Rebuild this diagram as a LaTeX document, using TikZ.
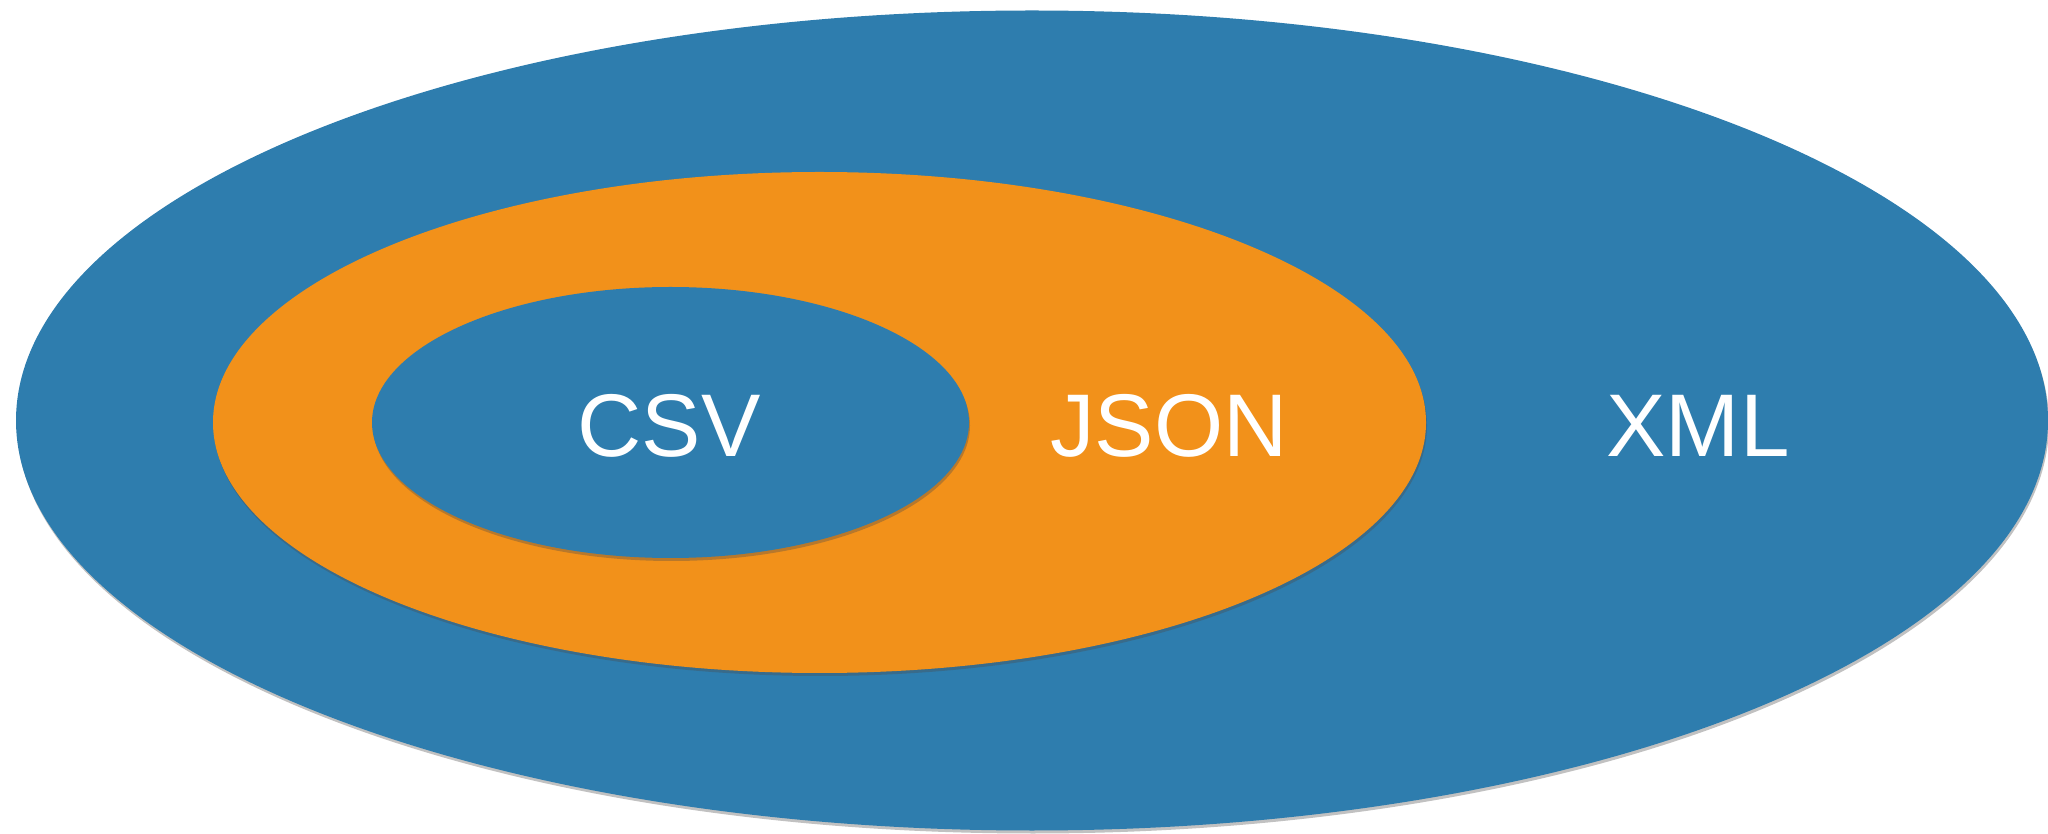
\documentclass[tikz,border=0pt]{standalone}
\usepackage{fontspec}
\setmainfont{Liberation Sans}
\usetikzlibrary{shadows}
\definecolor{setblue}{RGB}{46,125,174}
\definecolor{setorange}{RGB}{242,145,26}
\begin{document}
\begin{tikzpicture}[x=1pt,y=1pt,
  setshadow/.style={drop shadow={shadow xshift=1pt,shadow yshift=-3pt,opacity=0.35,fill=black!70}},
  setlabel/.style={text=white,anchor=base,inner sep=0pt,font=\fontsize{89pt}{100pt}\selectfont}]
  \useasboundingbox (0,0) rectangle (2048,833);
  % nested sets: XML contains JSON contains CSV
  \path[fill=setblue,setshadow] (1032,412.5) ellipse [x radius=1016,y radius=410];
  \path[fill=setorange,setshadow] (819.5,410.5) ellipse [x radius=606.5,y radius=250.5];
  \path[fill=setblue,setshadow] (670.5,410.5) ellipse [x radius=298.5,y radius=135.5];
  % set labels
  \node[setlabel] (csv)  at (669,376)  {CSV};
  \node[setlabel] (json) at (1169,376) {JSON};
  \node[setlabel] (xml)  at (1698,376) {XML};
\end{tikzpicture}
\end{document}
